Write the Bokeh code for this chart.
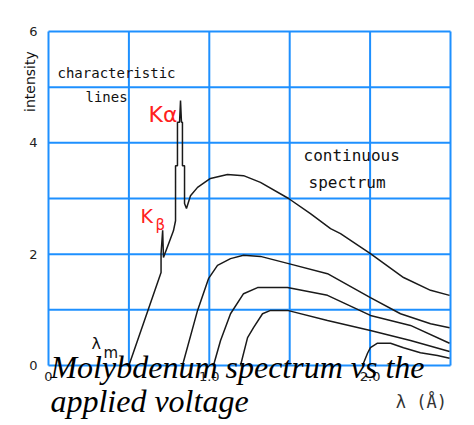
from bokeh.plotting import figure
from bokeh.models import Range1d, FixedTicker, Label
from bokeh.embed import file_html
from bokeh.resources import INLINE

# ---- data (wavelength in Angstrom, intensity in arbitrary units) ----
lam1 = [0.50, 0.70, 0.70, 0.71, 0.715, 0.777, 0.79, 0.79, 0.802, 0.802, 0.815, 0.821, 0.827, 0.833,
        0.833, 0.846, 0.846, 0.858, 0.883, 0.927, 1.007, 1.113, 1.213, 1.318, 1.493, 1.629, 1.754,
        1.816, 2.002, 2.208, 2.376, 2.494]
int1 = [0.0, 1.67, 2.01, 2.43, 1.94, 2.42, 2.60, 3.59, 3.59, 4.37, 4.37, 4.76, 4.37, 4.37,
        3.59, 3.59, 2.91, 2.82, 3.05, 3.20, 3.36, 3.43, 3.41, 3.29, 3.00, 2.73, 2.46,
        2.37, 2.01, 1.58, 1.35, 1.26]

lam2 = [0.833, 0.927, 0.995, 1.051, 1.132, 1.213, 1.318, 1.493, 1.735, 2.002, 2.189, 2.376, 2.494]
int2 = [0.0, 0.99, 1.56, 1.80, 1.92, 1.98, 1.96, 1.83, 1.65, 1.22, 0.93, 0.75, 0.68]

lam3 = [1.026, 1.070, 1.132, 1.213, 1.300, 1.486, 1.735, 2.002, 2.251, 2.494]
int3 = [0.0, 0.45, 0.93, 1.29, 1.40, 1.40, 1.26, 0.90, 0.72, 0.40]

lam4 = [1.194, 1.238, 1.275, 1.331, 1.381, 1.486, 1.735, 2.002, 2.251, 2.494]
int4 = [0.0, 0.50, 0.68, 0.93, 0.99, 0.99, 0.81, 0.63, 0.45, 0.25]

lam5 = [1.953, 1.984, 2.002, 2.046, 2.127, 2.208, 2.313, 2.419, 2.494]
int5 = [0.0, 0.22, 0.32, 0.40, 0.40, 0.32, 0.23, 0.18, 0.13]

x_ticks = [0, 1, 2]
x_tick_labels = {0: "0", 1: "1.0", 2: "2.0"}
x_grid = [0, 0.5, 1.0, 1.5, 2.0, 2.5]
y_ticks = [0, 2, 4, 6]
y_grid = [0, 1, 2, 3, 4, 5, 6]

BLUE = "#1E90FF"
W, H = 470, 423
XPX = 402 / 2.5      # px per Angstrom
YPX = 334 / 6        # px per intensity unit

p = figure(width=W, height=H,
           x_range=Range1d(-48 / XPX, 2.5 + (W - 450) / XPX),
           y_range=Range1d(-(H - 365) / YPX, 6 + 31 / YPX),
           output_backend="svg", toolbar_location=None, min_border=0)
p.background_fill_color = "white"
p.border_fill_color = "white"
p.outline_line_color = None
p.xgrid.visible = False
p.ygrid.visible = False

# grid lines (also form the frame box)
p.segment(x0=x_grid, y0=[y_grid[0]] * len(x_grid), x1=x_grid, y1=[y_grid[-1]] * len(x_grid),
          line_color=BLUE, line_width=2)
p.segment(x0=[x_grid[0]] * len(y_grid), y0=y_grid, x1=[x_grid[-1]] * len(y_grid), y1=y_grid,
          line_color=BLUE, line_width=2)

p.xaxis.ticker = FixedTicker(ticks=x_ticks)
p.xaxis.major_label_overrides = x_tick_labels
p.yaxis.ticker = FixedTicker(ticks=y_ticks)
p.xaxis.fixed_location = 0
p.yaxis.fixed_location = 0
for ax in (p.xaxis, p.yaxis):
    ax.axis_line_color = None
    ax.major_tick_line_color = None
    ax.minor_tick_line_color = None
    ax.major_tick_out = 0
    ax.major_tick_in = 0
    ax.minor_tick_out = 0
    ax.major_label_text_font = "DejaVu Sans"
    ax.major_label_text_font_size = "13px"
    ax.major_label_text_color = "#222222"
p.yaxis.major_label_standoff = 11
p.xaxis.major_label_standoff = 6

for lx, ly in ((lam1, int1), (lam2, int2), (lam3, int3), (lam4, int4), (lam5, int5)):
    p.line(lx, ly, line_color="#1a1a1a", line_width=1.5)

def lab(txt, x, y, size, color="#111111", font="DejaVu Sans", style="normal", angle=0,
        align="left", baseline="middle"):
    p.add_layout(Label(x=x, y=y, text=txt, text_font=font, text_font_size=size,
                       text_color=color, text_font_style=style, angle=angle,
                       text_align=align, text_baseline=baseline))

lab("characteristic", 0.056, 5.26, "14px", font="DejaVu Sans Mono")
lab("lines", 0.23, 4.83, "14px", font="DejaVu Sans Mono")
lab("continuous", 1.586, 3.77, "16px", font="DejaVu Sans Mono")
lab("spectrum", 1.617, 3.29, "16px", font="DejaVu Sans Mono")
lab("Kα", 0.622, 4.51, "22px", color="#FF2020")
lab("K", 0.572, 2.69, "19px", color="#FF2020")
lab("β", 0.665, 2.52, "15px", color="#FF2020")
lab("λ", 0.267, 0.40, "16px")
lab("m", 0.342, 0.23, "15px")
lab("λ (Å)", 2.16, -0.66, "17px", color="#333333", font="DejaVu Sans Mono")
lab("intensity", -0.112, 5.10, "14px", angle=1.5708, align="center")
lab("Molybdenum spectrum vs the", 0.012, -0.02, "32px", color="#000000",
    font="Liberation Serif", style="italic", baseline="alphabetic")
lab("applied voltage", 0.012, -0.645, "32px", color="#000000",
    font="Liberation Serif", style="italic", baseline="alphabetic")

open("out.html", "w").write(file_html(p, INLINE))
